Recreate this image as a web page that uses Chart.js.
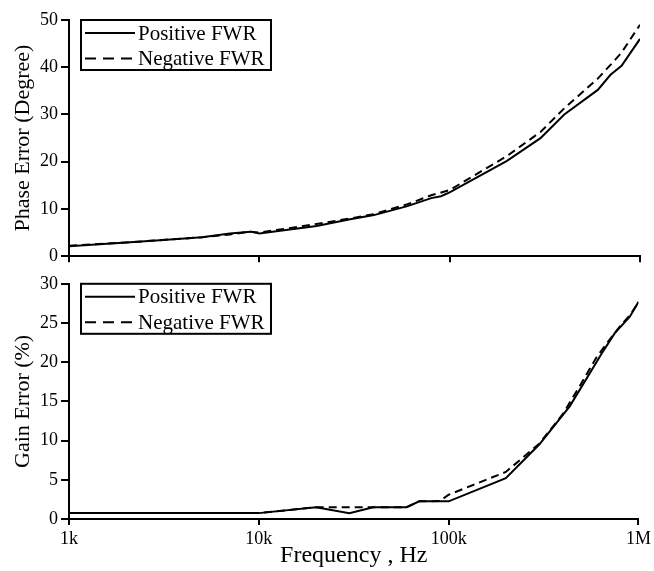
<!DOCTYPE html>
<html>
<head>
<meta charset="utf-8">
<script src="https://cdn.jsdelivr.net/npm/chart.js@4.4.1/dist/chart.umd.min.js"></script>
<style>
  html, body { margin: 0; padding: 0; background: #fff; }
  #wrap { position: relative; width: 654px; height: 571px; }
  #phaseBox { position: absolute; left: 0; top: 0; width: 654px; height: 270px; }
  #gainBox { position: absolute; left: 0; top: 270px; width: 654px; height: 301px; }
</style>
</head>
<body>
<div id="wrap">
  <div id="phaseBox"><canvas id="phaseChart" width="654" height="270"></canvas></div>
  <div id="gainBox"><canvas id="gainChart" width="654" height="301"></canvas></div>
</div>
<script>
// Frequency ticks (Hz) and their labels
const tickFreqs = [1e3, 1e4, 1e5, 1e6];
const tickLabels = ['1k', '10k', '100k', '1M'];
const seriesNames = ['Positive FWR', 'Negative FWR'];

// Phase error (degree)
const phaseFreqPos = [1000, 2000, 3000, 5000, 7000, 9000, 10000, 20000, 30000, 40000, 60000, 80000, 90000, 100000, 200000, 300000, 400000, 600000, 700000, 800000, 1000000];
const phasePos = [2.1, 2.9, 3.4, 4.0, 4.8, 5.2, 4.8, 6.4, 7.8, 8.7, 10.6, 12.3, 12.7, 13.5, 20.2, 25.0, 30.0, 35.2, 38.4, 40.3, 46.0];
const phaseFreqNeg = [1000, 2000, 3000, 5000, 7000, 9000, 10000, 20000, 30000, 40000, 60000, 80000, 100000, 200000, 300000, 400000, 600000, 700000, 800000, 1000000];
const phaseNeg = [2.2, 2.9, 3.4, 4.0, 4.6, 5.2, 5.0, 6.8, 8.0, 8.9, 11.0, 12.9, 14.0, 21.2, 26.3, 31.3, 37.6, 40.5, 43.1, 49.0];

// Gain error (%)
const gainFreqPos = [1000, 10000, 20000, 30000, 40000, 60000, 70000, 100000, 200000, 300000, 435000, 640000, 750000, 900000, 1000000];
const gainPos = [0.75, 0.75, 1.5, 0.75, 1.5, 1.5, 2.25, 2.25, 5.2, 9.5, 14.4, 21.1, 23.7, 25.8, 27.7];
const gainFreqNeg = [1000, 10000, 20000, 30000, 40000, 60000, 70000, 90000, 100000, 200000, 300000, 400000, 500000, 600000, 700000, 800000, 900000, 1000000];
const gainNeg = [0.75, 0.75, 1.5, 1.5, 1.5, 1.5, 2.25, 2.3, 3.1, 6.0, 9.6, 13.4, 17.3, 20.6, 22.8, 24.6, 26.0, 27.6];

const SERIF = '"Liberation Serif", "Times New Roman", serif';

function toPoints(xs, ys) {
    return xs.map((x, i) => ({ x: x, y: ys[i] }));
}

// Boxed legend in the upper-left corner of the plot
const boxedLegend = {
    id: 'boxedLegend',
    afterDraw(chart) {
        const ctx = chart.ctx;
        const area = chart.chartArea;
        const x0 = area.left + 12, y0 = area.top;
        const w = 190, h = 50;
        ctx.save();
        ctx.fillStyle = '#fff';
        ctx.fillRect(x0, y0, w, h);
        ctx.strokeStyle = '#000';
        ctx.lineWidth = 2;
        ctx.strokeRect(x0, y0, w, h);
        ctx.font = '21px ' + SERIF;
        ctx.textBaseline = 'middle';
        ctx.fillStyle = '#000';
        chart.data.datasets.forEach((ds, i) => {
            const y = y0 + 13 + i * 25.5;
            // the legend sample uses longer dashes than the plotted line
            ctx.setLineDash(ds.borderDash ? [11, 7] : []);
            ctx.beginPath();
            ctx.moveTo(x0 + 4, y);
            ctx.lineTo(x0 + 54, y);
            ctx.stroke();
            ctx.setLineDash([]);
            ctx.fillText(ds.label, x0 + 57, y + 1);
        });
        ctx.restore();
    }
};

function makeChart(canvasId, opts) {
    const ctx = document.getElementById(canvasId).getContext('2d');
    return new Chart(ctx, {
        type: 'line',
        data: {
            datasets: [{
                label: seriesNames[0],
                data: opts.pos,
                borderColor: '#000',
                borderWidth: 2,
                pointRadius: 0,
                tension: 0
            }, {
                label: seriesNames[1],
                data: opts.neg,
                borderColor: '#000',
                borderWidth: 2,
                borderDash: [8, 5],
                pointRadius: 0,
                tension: 0
            }]
        },
        options: {
            responsive: false,
            animation: false,
            devicePixelRatio: 1,
            layout: { padding: { left: 0, right: 14, top: opts.padTop, bottom: 0 } },
            plugins: { legend: { display: false }, tooltip: { enabled: false } },
            scales: {
                x: {
                    type: 'logarithmic',
                    min: 1e3,
                    max: 1e6,
                    afterBuildTicks: (scale) => { scale.ticks = tickFreqs.map(v => ({ value: v })); },
                    afterFit: (scale) => { scale.height = opts.xHeight; },
                    border: { display: true, color: '#000', width: 2 },
                    grid: { drawOnChartArea: false, drawTicks: true, tickLength: 6, color: '#000', lineWidth: 2 },
                    ticks: {
                        display: opts.showX,
                        color: '#000',
                        padding: 3,
                        maxRotation: 0,
                        font: { family: SERIF, size: 18 },
                        callback: (v) => tickLabels[tickFreqs.indexOf(v)]
                    },
                    title: {
                        display: opts.showX,
                        text: 'Frequency , Hz',
                        color: '#000',
                        padding: { top: 0, bottom: 1 },
                        font: { family: SERIF, size: 24 }
                    }
                },
                y: {
                    min: 0,
                    max: opts.yMax,
                    afterFit: (scale) => { scale.width = 69; },
                    border: { display: true, color: '#000', width: 2 },
                    grid: { drawOnChartArea: false, drawTicks: true, tickLength: 8, color: '#000', lineWidth: 2 },
                    ticks: {
                        stepSize: opts.yStep,
                        color: '#000',
                        padding: 3,
                        font: { family: SERIF, size: 18 }
                    },
                    title: {
                        display: true,
                        text: opts.yTitle,
                        color: '#000',
                        padding: { top: 10, bottom: 0 },
                        font: { family: SERIF, size: 22 }
                    }
                }
            }
        },
        plugins: [boxedLegend]
    });
}

makeChart('phaseChart', {
    pos: toPoints(phaseFreqPos, phasePos),
    neg: toPoints(phaseFreqNeg, phaseNeg),
    yMax: 50, yStep: 10, yTitle: 'Phase Error (Degree)',
    padTop: 20, xHeight: 12, showX: false
});

makeChart('gainChart', {
    pos: toPoints(gainFreqPos, gainPos),
    neg: toPoints(gainFreqNeg, gainNeg),
    yMax: 30, yStep: 5, yTitle: 'Gain Error (%)',
    padTop: 11, xHeight: 52, showX: true
});
</script>
</body>
</html>
